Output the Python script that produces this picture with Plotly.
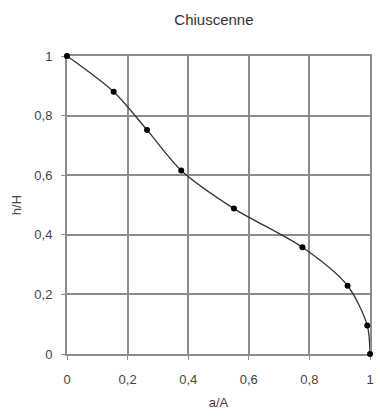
import plotly.graph_objects as go

title = "Chiuscenne"
a_A = [0.0, 0.154, 0.264, 0.377, 0.551, 0.777, 0.926, 0.991, 1.0]
h_H = [1.0, 0.880, 0.752, 0.616, 0.488, 0.358, 0.229, 0.096, 0.0]
tick_vals = [0, 0.2, 0.4, 0.6, 0.8, 1]
tick_text = ["0", "0,2", "0,4", "0,6", "0,8", "1"]

FONT = "Liberation Sans, Arial"
fig = go.Figure()
fig.add_trace(go.Scatter(
    x=a_A, y=h_H, mode="lines+markers",
    line=dict(color="#333333", width=1.3, shape="spline", smoothing=0.8),
    marker=dict(color="black", size=6),
    showlegend=False, cliponaxis=False,
))

axis_common = dict(
    range=[0, 1], tickvals=tick_vals, ticktext=tick_text,
    showgrid=True, gridcolor="#8c8c8c", gridwidth=2,
    showline=True, linecolor="#8c8c8c", linewidth=2, mirror=True,
    ticks="outside", ticklen=4, tickcolor="#8c8c8c", layer="below traces",
    zeroline=False, tickfont=dict(family=FONT, size=13, color="#444"),
)
fig.update_xaxes(**axis_common, ticklabelstandoff=8,
                 title=dict(text="a/A", font=dict(family=FONT, size=13, color="#444"), standoff=12))
fig.update_yaxes(**axis_common, ticklabelstandoff=6,
                 title=dict(text="h/H", font=dict(family=FONT, size=13, color="#444"), standoff=10))

fig.update_layout(
    width=380, height=416,
    margin=dict(l=67, r=6, t=56, b=62),
    paper_bgcolor="white", plot_bgcolor="white",
    title=dict(text=title, x=0.563, xanchor="center", y=0.952, yanchor="middle",
               font=dict(family=FONT, size=15, color="#333")),
)
fig.write_html("out.html")
